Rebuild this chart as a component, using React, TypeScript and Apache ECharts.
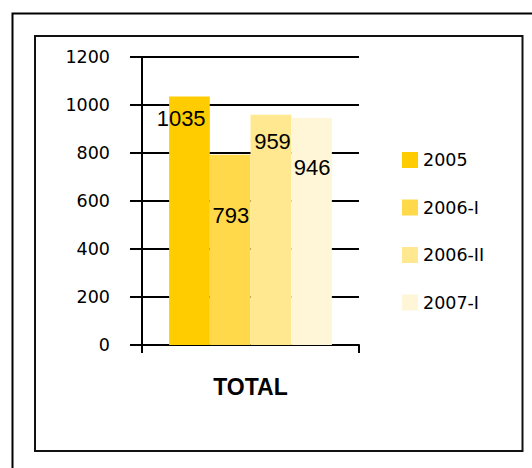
import React, { useEffect, useRef } from "react";
import * as echarts from "echarts";

// Chart data
const categories = ["TOTAL"];
const seriesNames = ["2005", "2006-I", "2006-II", "2007-I"];
const seriesValues = [1035, 793, 959, 946];
const seriesColors = ["#FFCC00", "#FFD94A", "#FFE890", "#FFF6D8"];
const yTicks = { min: 0, max: 1200, interval: 200 };

// Hand-placed value label anchors, relative to each bar's top-left corner
const labelAnchors: [number, number][] = [
  [12, 22],
  [21, 61],
  [22, 27],
  [21, 50],
];

const AXIS_FONT = "DejaVu Sans";
const VALUE_FONT = "'Liberation Sans', Arial, sans-serif";

export default function App() {
  const ref = useRef<HTMLDivElement>(null);

  useEffect(() => {
    if (!ref.current) return;
    const chart = echarts.init(ref.current, undefined, { renderer: "svg" });

    const series = seriesNames.map((name, i) => ({
      name,
      type: "bar" as const,
      barGap: "0%",
      barCategoryGap: "25%",
      itemStyle: { color: seriesColors[i] },
      data: [seriesValues[i]],
      label: {
        show: true,
        position: labelAnchors[i],
        align: "center",
        verticalAlign: "middle",
        fontFamily: VALUE_FONT,
        fontSize: 22,
        color: "#000",
      },
    }));

    chart.setOption({
      animation: false,
      backgroundColor: "#fff",
      graphic: [
        {
          type: "rect",
          shape: { x: 12.5, y: 13.5, width: 700, height: 700 },
          style: { fill: "none", stroke: "#000", lineWidth: 2 },
          silent: true,
        },
        {
          type: "rect",
          shape: { x: 35, y: 36, width: 487.5, height: 415 },
          style: { fill: "none", stroke: "#111", lineWidth: 2 },
          silent: true,
        },
      ],
      legend: {
        orient: "vertical",
        left: 402,
        top: 151,
        padding: 0,
        itemWidth: 16,
        itemHeight: 16,
        itemGap: 29.5,
        icon: "rect",
        data: seriesNames,
        textStyle: { fontFamily: AXIS_FONT, fontSize: 17.5, color: "#000" },
      },
      grid: { left: 142, right: 173, top: 57, bottom: 123, containLabel: false },
      xAxis: {
        type: "category",
        data: categories,
        axisLine: { lineStyle: { color: "#000", width: 2 } },
        axisTick: { show: true, length: 8, lineStyle: { color: "#000", width: 2 } },
        axisLabel: {
          margin: 30,
          fontFamily: "'Liberation Sans', Arial, sans-serif",
          fontWeight: "bold",
          fontSize: 23,
          color: "#000",
        },
      },
      yAxis: {
        type: "value",
        min: yTicks.min,
        max: yTicks.max,
        interval: yTicks.interval,
        axisLine: { show: true, lineStyle: { color: "#000", width: 2 } },
        axisTick: { show: true, length: 12, lineStyle: { color: "#000", width: 2 } },
        splitLine: { show: true, lineStyle: { color: "#000", width: 2 } },
        axisLabel: {
          margin: 32,
          fontFamily: AXIS_FONT,
          fontSize: 17.5,
          color: "#000",
          formatter: (v: number) => String(v),
        },
      },
      series,
    });

    return () => chart.dispose();
  }, []);

  return (
    <div
      ref={ref}
      style={{ position: "fixed", left: 0, top: 0, width: 532, height: 468 }}
    />
  );
}
